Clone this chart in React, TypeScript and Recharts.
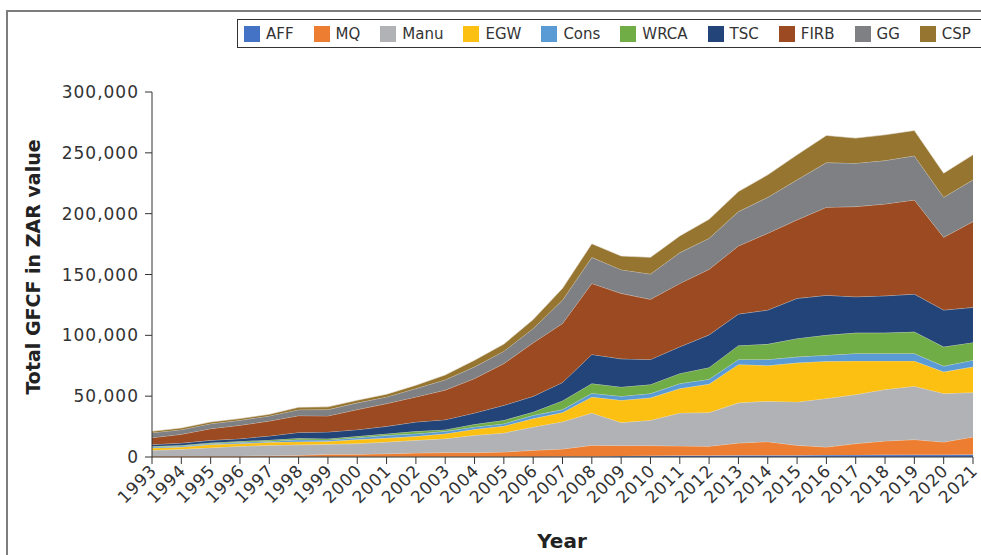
import React from 'react';
import { AreaChart, Area, XAxis, YAxis, Label } from 'recharts';

const years = ['1993','1994','1995','1996','1997','1998','1999','2000','2001','2002','2003','2004','2005','2006','2007','2008','2009','2010','2011','2012','2013','2014','2015','2016','2017','2018','2019','2020','2021'];

const AFF = [300,300,300,300,300,300,300,300,300,300,300,300,300,300,500,500,800,1000,1200,1300,1400,1500,1500,1600,1700,1800,1900,1900,2000];
const MQ = [500,500,500,500,800,1100,1900,1900,2400,3000,3300,3300,3800,5200,6100,9100,8600,8400,7900,7600,10100,11100,8100,6600,9300,11400,12400,10400,14500];
const Manu = [4700,5500,6900,8000,8500,8600,8200,8800,9600,10400,11500,14200,15700,19200,22400,26600,18900,20800,27100,27600,33000,33300,35700,39900,40300,42300,43900,39900,36500];
const EGW = [1900,1900,2500,2200,2500,2600,2500,3300,3300,3300,4100,5000,5700,6900,7600,13200,18400,18400,20100,23400,31600,29300,32100,30700,27700,23500,20800,17800,21100];
const Cons = [800,900,800,1100,800,1600,1100,1600,2200,2200,1900,1900,1900,2700,2400,3000,3300,3600,4100,4100,4100,5000,4900,4900,6100,6100,6100,4700,5500];
const WRCA = [600,500,800,800,1100,1200,1100,1100,1400,1900,1400,2200,2800,2700,7300,8000,7600,7400,8300,9600,11500,12600,15200,16500,17000,17000,17800,15900,14600];
const TSC = [1400,1900,1900,2200,3300,4800,5500,5500,6000,7700,8200,9300,12300,12900,15000,23900,23100,20600,21900,26800,25800,28000,32900,32700,29600,30400,31000,30200,28800];
const FIRB = [5700,7200,9600,11000,12300,13800,13200,16500,18700,20600,24300,28300,34300,44000,48500,58400,53800,49400,52100,53900,56000,63100,64500,72400,74100,75500,77400,59800,70500];
const GG = [4100,3800,4100,4100,4200,4900,5200,5500,5500,6900,8500,9600,10200,11800,19200,21400,19500,20800,25300,25500,28200,29600,32900,36700,35700,35700,36300,32900,34300];
const CSP = [1100,1400,1400,1400,1300,2000,2200,2200,2200,2700,4000,5500,5800,7300,9600,11200,11200,13700,13700,15600,16500,18400,20600,22300,20600,21100,20800,19800,20600];

const yTicks = [0, 50000, 100000, 150000, 200000, 250000, 300000];

const seriesNames = ['AFF','MQ','Manu','EGW','Cons','WRCA','TSC','FIRB','GG','CSP'];
const seriesValues = [AFF, MQ, Manu, EGW, Cons, WRCA, TSC, FIRB, GG, CSP];
const seriesColors = ['#4472C4','#ED7D31','#B1B2B5','#FBC012','#5B9BD5','#70AD47','#234478','#9C4A22','#7F8084','#967530'];

const data = years.map((y, i) => {
  const row: Record<string, string | number> = { year: y };
  seriesNames.forEach((n, k) => { row[n] = seriesValues[k][i]; });
  return row;
});

const FONT = '"DejaVu Sans", sans-serif';

const XTick = (props: any) => {
  const { x, y, payload } = props;
  return (
    <g transform={`translate(${x - 3},${y - 3})`}>
      <text transform="rotate(-45)" textAnchor="end" x={0} y={0} dy="0.72em" fontFamily={FONT} fontSize={17} letterSpacing={0.8} fill="#333">
        {payload.value}
      </text>
    </g>
  );
};

export default function App() {
  return (
    <div style={{ position: 'absolute', left: 0, top: 0, width: 981, height: 555, overflow: 'hidden', background: '#fff', fontFamily: FONT }}>
      <div style={{ position: 'absolute', left: 6, top: 10, width: 1000, height: 600, borderLeft: '2px solid #7d7d7d', borderTop: '2px solid #7d7d7d' }} />
      <div style={{ position: 'absolute', left: 237, top: 19, width: 800, height: 29, border: '1px solid #333', display: 'flex', alignItems: 'center', paddingLeft: 6, boxSizing: 'border-box' }}>
        {seriesNames.map((n, k) => (
          <div key={n} style={{ display: 'flex', alignItems: 'center', marginRight: 20 }}>
            <div style={{ width: 16, height: 16, background: seriesColors[k], marginRight: 6 }} />
            <span style={{ fontSize: 15, color: '#333' }}>{n}</span>
          </div>
        ))}
      </div>
      <div style={{ position: 'absolute', left: 0, top: 0 }}>
        <AreaChart width={981} height={555} data={data} margin={{ top: 92, right: 8, bottom: 38, left: 0 }}>
          <XAxis dataKey="year" height={60} tick={<XTick />} tickSize={7} interval={0} stroke="#333" tickLine={{ stroke: '#333' }}>
            <Label content={() => (
              <text x={562} y={548} textAnchor="middle" fontFamily={FONT} fontSize={20} fontWeight="bold" fill="#222">Year</text>
            )} />
          </XAxis>
          <YAxis width={152} domain={[0, 300000]} ticks={yTicks} tickSize={7} tickMargin={6} stroke="#333"
            tick={{ fontFamily: FONT, fontSize: 17, fill: '#333', letterSpacing: 1 }}
            tickFormatter={(v: number) => v.toLocaleString('en-US')}>
            <Label content={() => (
              <text x={34} y={267} transform="rotate(-90,34,267)" textAnchor="middle" dominantBaseline="middle" fontFamily={FONT} fontSize={19} fontWeight="bold" fill="#222">Total GFCF in ZAR value</text>
            )} />
          </YAxis>
          {seriesNames.map((n, k) => (
            <Area key={n} type="linear" dataKey={n} stackId="1" stroke="#e8e2d6" strokeWidth={0.6} fill={seriesColors[k]} fillOpacity={1} isAnimationActive={false} dot={false} activeDot={false} />
          ))}
        </AreaChart>
      </div>
    </div>
  );
}
